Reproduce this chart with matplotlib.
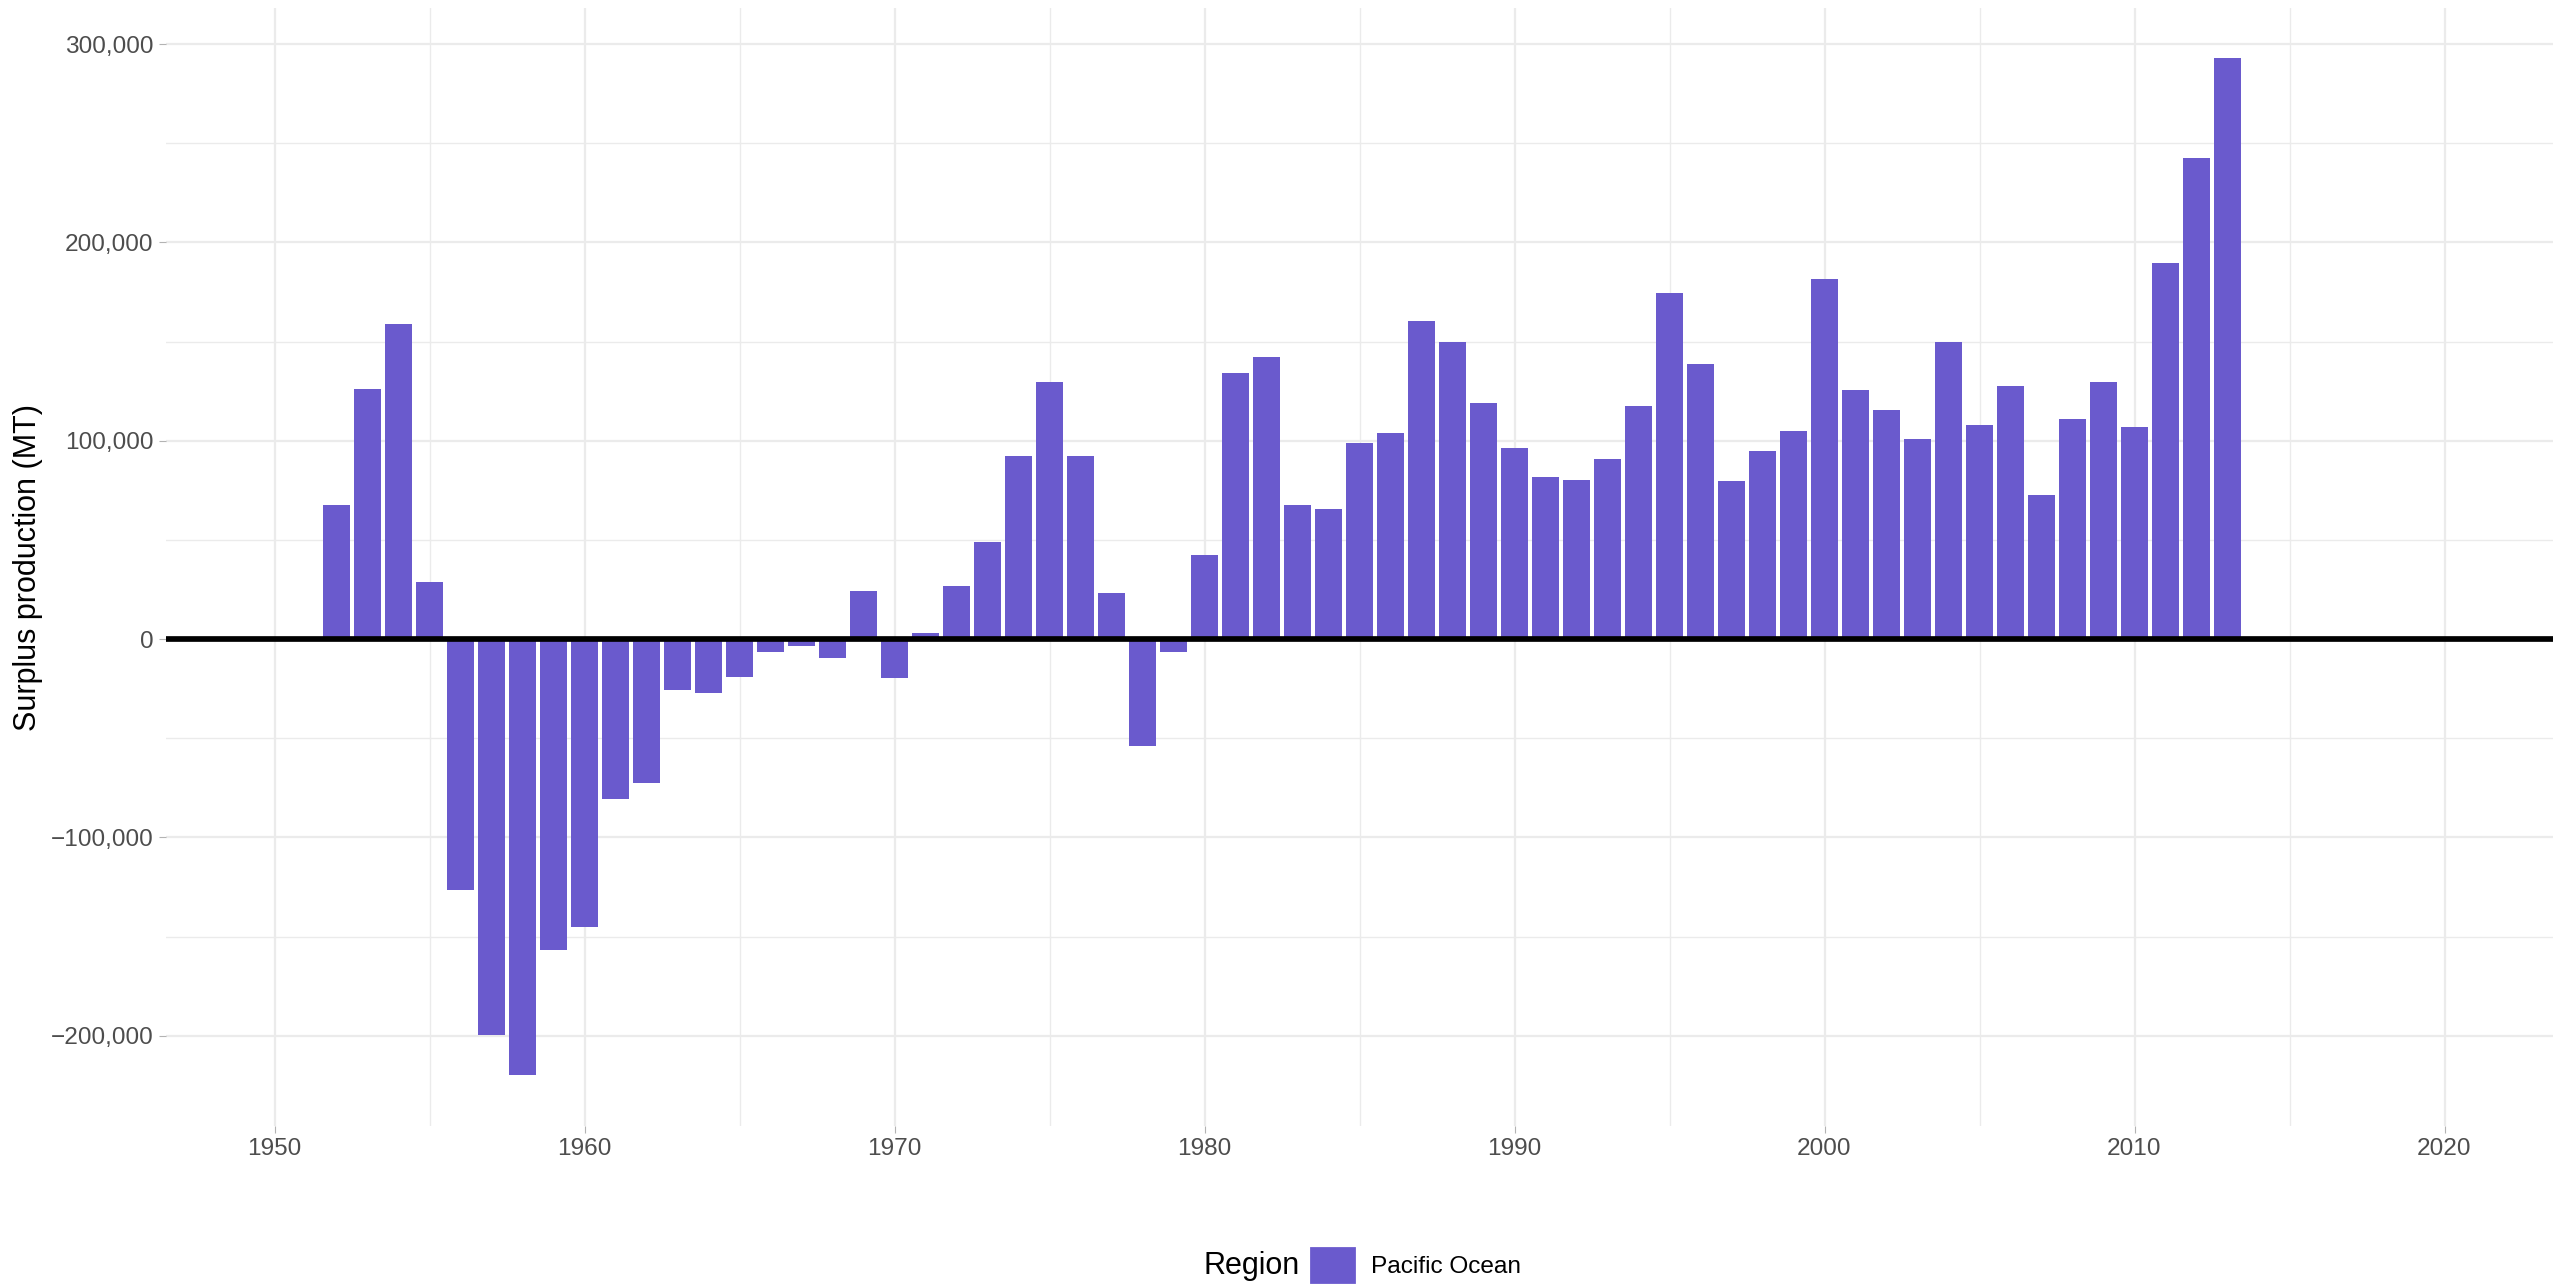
import numpy as np
import matplotlib
matplotlib.use('Agg')
import matplotlib.pyplot as plt
from matplotlib.patches import Patch
from matplotlib.ticker import FuncFormatter, MultipleLocator

plt.rcParams['font.family'] = ['Liberation Sans', 'DejaVu Sans']

# surplus production by year (MT)
years = np.arange(1952, 2014)
surplus = np.array([
    67400, 126000, 158800, 29000, -126500, -199600, -219900, -157000,
    -145000, -80500, -72800, -25500, -27400, -18900, -6600, -3300,
    -9600, 24400, -19700, 3000, 26800, 48700, 92500, 129500,
    92500, 23300, -53700, -6600, 42200, 133900, 142000, 67400,
    65700, 98600, 103800, 160200, 150000, 118800, 96100, 81900,
    80000, 91000, 117400, 174300, 138600, 79700, 94800, 104900,
    181400, 125500, 115400, 100800, 149700, 107900, 127500, 72700,
    110900, 129500, 106900, 189600, 242800, 292800,
])
region = 'Pacific Ocean'
x_ticks = [1950, 1960, 1970, 1980, 1990, 2000, 2010, 2020]
y_ticks = [-200000, -100000, 0, 100000, 200000, 300000]

bar_color = '#6A5ACD'
grid_color = '#EBEBEB'
text_gray = '#4D4D4D'

fig = plt.figure(figsize=(2569 / 200, 1287 / 200), dpi=200)
ax = fig.add_axes([166 / 2569, 1 - 1125.7 / 1287,
                   (2553 - 166) / 2569, (1125.7 - 8) / 1287])

ax.bar(years, surplus, width=0.9, color=bar_color, zorder=2)
ax.axhline(0, color='black', lw=2.05, zorder=3)

ax.set_xlim(1946.5, 2023.5)
ax.set_ylim(-245400, 318200)

ax.set_xticks(x_ticks)
ax.set_yticks(y_ticks)
ax.xaxis.set_minor_locator(MultipleLocator(5))
ax.yaxis.set_minor_locator(MultipleLocator(50000))
ax.yaxis.set_major_formatter(
    FuncFormatter(lambda v, p: f'{v:,.0f}'.replace('-', '\u2212')))

ax.grid(which='major', color=grid_color, lw=0.8, zorder=0)
ax.grid(which='minor', color=grid_color, lw=0.5, zorder=0)
ax.set_axisbelow(True)
for s in ax.spines.values():
    s.set_visible(False)

ax.tick_params(which='major', length=2.6, width=0.4, color='#B3B3B3',
               labelsize=8.8, labelcolor=text_gray, pad=2)
ax.tick_params(which='minor', length=0)

fig.text(28 / 2569, 1 - 567 / 1287, 'Surplus production (MT)',
         rotation=90, ha='center', va='center', fontsize=11)

# legend at the bottom: title to the left of the key
fig.text(1203 / 2569, 1 - 1266 / 1287, 'Region', ha='left', va='center',
         fontsize=11)
fig.legend(handles=[Patch(color=bar_color)], labels=[region],
           loc='center left', bbox_to_anchor=(1311 / 2569, 1 - 1265 / 1287),
           frameon=False, fontsize=8.8, handlelength=1.76, handleheight=1.76,
           handletextpad=0.7, borderpad=0, borderaxespad=0)

fig.savefig('out.png', dpi=200)
